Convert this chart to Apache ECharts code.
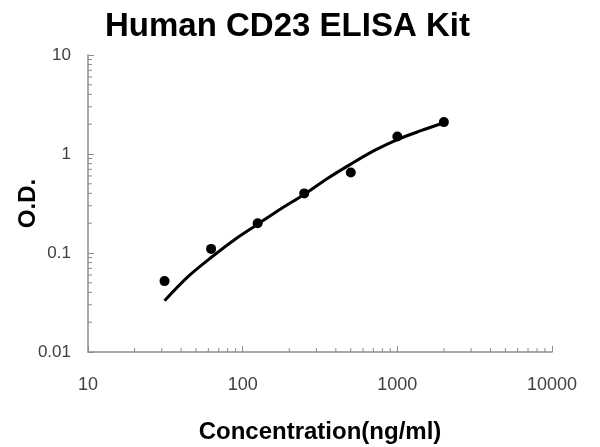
<!DOCTYPE html>
<html>
<head>
<meta charset="utf-8">
<script src="https://cdn.jsdelivr.net/npm/echarts@6/dist/echarts.min.js"></script>
<style>
  html, body { margin: 0; padding: 0; background: #fff; }
  #chart { width: 600px; height: 447px; }
</style>
</head>
<body>
<div id="chart"></div>
<script>
// standards (measured)
var concentrations = [31.25, 62.5, 125, 250, 500, 1000, 2000];
var odValues = [0.052, 0.11, 0.2, 0.4, 0.65, 1.5, 2.1];

// fitted curve
var curveX = [31.25, 44.5, 62.5, 89, 125, 177, 250, 355, 500, 707, 1000, 1420, 2000];
var curveY = [0.033, 0.058, 0.09, 0.137, 0.195, 0.28, 0.39, 0.568, 0.79, 1.08, 1.4, 1.72, 2.07];

// minor tick positions (2..9 of each decade)
var xMinor = [];
var yMinor = [];
[10, 100, 1000].forEach(function(d) {
  for (var k = 2; k <= 9; k++) xMinor.push(d * k);
});
[0.01, 0.1, 1].forEach(function(d) {
  for (var k = 2; k <= 9; k++) yMinor.push(+(d * k).toFixed(3));
});

var axisColor = '#8c8c8c';
var labelColor = '#404040';

var echart = echarts.init(document.getElementById('chart'));

var option = {
  animation: false,
  title: {
    text: 'Human CD23 ELISA Kit',
    left: 100,
    top: 5,
    textStyle: {
      fontFamily: 'Liberation Sans',
      fontWeight: 'bold',
      fontSize: 33,
      color: '#000'
    }
  },
  grid: {
    left: 88,
    right: 48,
    top: 55,
    bottom: 95,
    outerBoundsMode: 'none',
    containLabel: false
  },
  xAxis: {
    type: 'log',
    logBase: 10,
    min: 10,
    max: 10000,
    name: 'Concentration(ng/ml)',
    nameLocation: 'middle',
    nameGap: 68,
    nameMoveOverlap: false,
    nameTextStyle: {
      fontFamily: 'Liberation Sans',
      fontWeight: 'bold',
      fontSize: 24,
      color: '#000'
    },
    axisLine: { lineStyle: { color: axisColor, width: 1.5 } },
    axisTick: { inside: true, length: 6, lineStyle: { color: axisColor } },
    axisLabel: {
      fontFamily: 'Liberation Sans',
      fontSize: 18,
      color: labelColor,
      margin: 24,
      formatter: function(v) { return String(v); }
    },
    splitLine: { show: false }
  },
  yAxis: {
    type: 'log',
    logBase: 10,
    min: 0.01,
    max: 10,
    name: 'O.D.',
    nameLocation: 'middle',
    nameGap: 48,
    nameMoveOverlap: false,
    nameTextStyle: {
      fontFamily: 'Liberation Sans',
      fontWeight: 'bold',
      fontSize: 24,
      color: '#000'
    },
    axisLine: { show: true, lineStyle: { color: axisColor, width: 1.5 } },
    axisTick: { show: true, inside: true, length: 6, lineStyle: { color: axisColor } },
    axisLabel: {
      fontFamily: 'Liberation Sans',
      fontSize: 17,
      color: labelColor,
      margin: 17,
      formatter: function(v) { return String(+v.toPrecision(3)); }
    },
    splitLine: { show: false }
  },
  series: [
    {
      name: 'fit',
      type: 'line',
      data: curveX.map(function(x, i) { return [x, curveY[i]]; }),
      smooth: 0.3,
      showSymbol: false,
      lineStyle: { color: '#000', width: 3 },
      z: 3
    },
    {
      name: 'standards',
      type: 'scatter',
      data: concentrations.map(function(x, i) { return [x, odValues[i]]; }),
      symbolSize: 10,
      itemStyle: { color: '#000', opacity: 1 },
      z: 4
    },
    {
      name: 'xMinor',
      type: 'custom',
      silent: true,
      clip: false,
      data: xMinor.map(function(v) { return [v, 0.01]; }),
      renderItem: function(params, api) {
        var p = api.coord([api.value(0), api.value(1)]);
        return {
          type: 'line',
          shape: { x1: p[0], y1: p[1], x2: p[0], y2: p[1] - 4 },
          style: { stroke: axisColor, lineWidth: 1 }
        };
      }
    },
    {
      name: 'yMinor',
      type: 'custom',
      silent: true,
      clip: false,
      data: yMinor.map(function(v) { return [10, v]; }),
      renderItem: function(params, api) {
        var p = api.coord([api.value(0), api.value(1)]);
        return {
          type: 'line',
          shape: { x1: p[0], y1: p[1], x2: p[0] + 4, y2: p[1] },
          style: { stroke: axisColor, lineWidth: 1 }
        };
      }
    }
  ]
};

echart.setOption(option);
</script>
</body>
</html>
